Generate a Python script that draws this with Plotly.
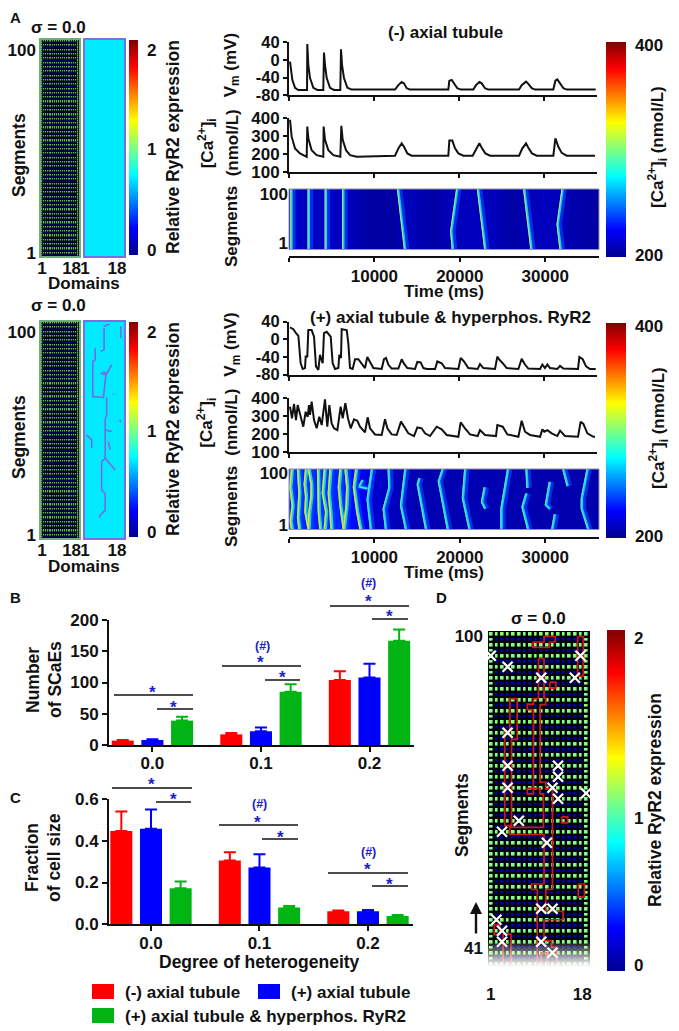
import plotly.graph_objects as go

W, H = 679, 1031
FONT = "Liberation Sans"

# ---------------- data ----------------
HET_LEVELS = ["0.0", "0.1", "0.2"]
SCAE_NOTT = [7, 17, 104]
SCAE_TT = [8, 22, 108]
SCAE_HYPER = [39, 85, 167]
SCAE_NOTT_ERR = [1, 2, 14]
SCAE_TT_ERR = [1, 6, 22]
SCAE_HYPER_ERR = [6, 12, 18]
FRAC_NOTT = [0.447, 0.305, 0.062]
FRAC_TT = [0.458, 0.272, 0.062]
FRAC_HYPER = [0.173, 0.08, 0.04]
FRAC_NOTT_ERR = [0.093, 0.04, 0.004]
FRAC_TT_ERR = [0.092, 0.063, 0.006]
FRAC_HYPER_ERR = [0.032, 0.008, 0.004]
SERIES_NAMES = ["(-) axial tubule", "(+) axial tubule", "(+) axial tubule & hyperphos. RyR2"]

VM1_T = [120, 390, 710, 1100, 2120, 2150, 2270, 2470, 2860, 3330, 4030, 4110, 4230, 4430, 4820, 5290, 6030, 6110, 6230, 6460, 6860, 7360,
         12460, 12850, 13240, 13510, 13830, 14220, 18720, 18840, 19120, 19390, 19780, 20170, 21660, 21980, 22370, 22640, 23030, 23420,
         27030, 27340, 27850, 28120, 28520, 28910, 31060, 31300, 31530, 31850, 32240, 32630, 36040]
VM1_V = [-4, -45, -63, -68, -68, 36, -11, -41, -63, -68, -68, 17, -11, -41, -63, -68, -68, 24, -11, -41, -63, -67,
         -67, -57, -50, -53, -64, -67, -67, -47, -45, -53, -64, -67, -67, -57, -50, -53, -64, -67,
         -67, -57, -49, -54, -64, -67, -67, -47, -44, -53, -64, -67, -67]
CA1_T = [120, 310, 710, 1290, 2080, 2150, 2270, 2660, 3250, 4030, 4070, 4230, 4620, 5210, 6030, 6150, 6310, 6700, 7170, 7950,
         12460, 12850, 13240, 13510, 13910, 14410, 18720, 18840, 19190, 19510, 19900, 20490, 21580, 22050, 22370, 22680, 23070, 23620,
         27030, 27420, 27850, 28160, 28550, 29100, 31060, 31300, 31650, 32040, 32630, 35960]
CA1_C = [392, 298, 233, 205, 186, 354, 289, 223, 195, 186, 354, 280, 223, 195, 186, 358, 280, 223, 195, 186,
         192, 233, 261, 242, 205, 192, 192, 276, 276, 233, 205, 192, 192, 233, 261, 233, 205, 192,
         192, 233, 261, 233, 205, 192, 192, 289, 242, 208, 192, 192]

VM2_T = [120, 510, 820, 1100, 1370, 1610, 1880, 1960, 2150, 2270, 2660, 2940, 3170, 3450, 3640, 3960, 4110, 4430, 4900, 5130, 5410, 5800,
         5910, 6110, 6190, 6780, 6970, 7170, 7480, 7760, 8150, 8540, 8930, 9200, 9520, 9910, 10890, 11160, 11400, 11670, 12060, 12850,
         13240, 13510, 13910, 14810, 15080, 15470, 15790, 16180, 17160, 17430, 17940, 18330, 19900, 20170, 20560, 21070, 22170, 22440,
         22840, 24210, 24480, 24720, 25110, 25580, 26950, 27340, 27730, 28120, 29500, 29770, 30080, 30360, 30670, 31530, 31850, 32240,
         33960, 34120, 34510, 34900, 35370, 36040]
VM2_V = [27, 23, 14, 8, -54, -67, -65, -39, -39, 21, 21, 6, -61, -69, -35, -54, 14, 17, 6, -54, -67, -65,
         -35, -42, 23, 21, -9, -65, -67, -45, -45, -54, -65, -40, -50, -65, -67, -45, -42, -57, -66, -66,
         -45, -55, -65, -67, -51, -52, -65, -67, -67, -50, -54, -65, -67, -42, -50, -65, -67, -56,
         -65, -67, -39, -46, -54, -65, -67, -44, -57, -66, -67, -57, -65, -57, -65, -67, -60, -66,
         -67, -40, -45, -61, -67, -67]
CA2_T = [120, 350, 590, 820, 1020, 1290, 1680, 1960, 2190, 2350, 2470, 2660, 2940, 3250, 3560, 3840, 4230, 4500, 4740, 5010, 5290, 5680,
         6070, 6310, 6620, 6930, 7250, 7640, 8030, 8340, 8930, 9240, 9520, 10110, 10890, 11280, 11560, 12060, 12650, 13160, 13630, 14020,
         14690, 15080, 15590, 15980, 16570, 17350, 17940, 18530, 19900, 20170, 20680, 21270, 22170, 22440, 23030, 24320, 24480, 25110,
         25660, 26950, 27340, 27730, 28320, 29500, 29770, 30000, 30360, 30870, 31530, 31850, 32430, 33960, 34270, 34590, 35060, 35760, 35960]
CA2_C = [350, 285, 365, 276, 359, 304, 239, 322, 294, 359, 304, 378, 276, 230, 294, 248, 391, 239, 359, 257, 230, 220,
         350, 285, 369, 285, 230, 280, 272, 239, 207, 291, 230, 196, 193, 280, 230, 196, 193, 267, 230, 202,
         187, 235, 230, 202, 187, 239, 224, 193, 183, 263, 230, 196, 187, 220, 193, 187, 248, 239,
         196, 183, 272, 211, 193, 183, 224, 211, 220, 202, 187, 217, 187, 183, 267, 254, 202, 183, 183]

# Ca2+ line scans: resting level along time, and the wavefronts read as (time, segment)
BG1_T = [0, 1000, 3000, 5000, 7000, 9000, 12000, 14000, 17000, 19000, 21000, 24000, 26000, 29000, 31000, 33000, 36300]
BG1_Z = [212, 212, 212, 212, 210, 205, 204, 210, 205, 210, 210, 210, 205, 210, 210, 207, 204]
BG2_T = [0, 3000, 6000, 8000, 10000, 13000, 16000, 20000, 24000, 28000, 32000, 36300]
BG2_Z = [232, 232, 232, 226, 214, 209, 208, 208, 208, 207, 207, 207]
WAVE1_T = [200, 200, None, 2230, 2230, None, 4230, 4230, None, 6270, 6270, None, 12690, 13510, None, 19620, 18920, 19110, None,
           22050, 22910, None, 27460, 28320, None, 31960, 31380, 31730]
WAVE1_S = [100, 1, None, 100, 1, None, 100, 1, None, 100, 1, None, 100, 1, None, 100, 31, 1, None,
           100, 1, None, 100, 1, None, 100, 42, 1]
WAVE2_HOT_T = [310, 120, 390, 160, 310, None, 1020, 1180, 1020, 1180, None, 1960, 1800, 1960, 1880, 2270, None, 2270, 2590, 2590, 2350, 2270, None,
               3370, 3450, 3450, 3640, None, 4150, 3920, 4310, 4150, None, 4820, 4620, 4820, 4940, None,
               5990, 5800, 5990, 6380, None, 6580, 6780, 6700, 6380, None, 7830, 7560, 7950, 8340]
WAVE2_HOT_S = [100, 70, 40, 15, 1, None, 100, 60, 20, 1, None, 100, 75, 55, 30, 1, None, 100, 75, 55, 30, 1, None,
               100, 60, 30, 1, None, 100, 60, 30, 1, None, 100, 60, 30, 1, None,
               100, 70, 40, 1, None, 100, 70, 40, 1, None, 100, 70, 30, 1]
WAVE2_T = [8540, 8150, 9130, None, 9640, 9130, 9520, None, 11600, 11670, 11010, 11280, None, 13550, 13040, 13630, None, 15200, 15000, 15980, None,
           17940, 17470, 18530, None, 20560, 20290, 21070, None, 22840, 22520, 22900, None, 25580, 24800, 24800, None,
           27730, 27850, None, 27730, 27260, 27930, None, 30470, 30000, 30470, None, 31060, 30750, None, 32040, 32550, None,
           34890, 34210, 34210, 34980]
WAVE2_S = [82, 71, 68, None, 100, 50, 1, None, 100, 69, 35, 1, None, 100, 40, 1, None, 85, 75, 1, None,
           100, 80, 1, None, 100, 52, 1, None, 70, 46, 35, None, 100, 35, 1, None,
           100, 69, None, 60, 38, 1, None, 79, 41, 35, None, 26, 1, None, 100, 72, None,
           100, 52, 35, 1]

# RyR2 maps
DOMAINS = list(range(1, 19))
SEGMENTS_ALL = list(range(1, 101))
SEGMENTS_D = list(range(39, 101))
ROW_BRIGHT = [1.0] * 18
ROW_DIM = [1.0] + [0.06] * 16 + [1.0]
ROW_CYAN = [0.71] * 18
PHOS_D = [9, 11.8, None, 17, 17, None, 9.3, 9.3, 7.8, None, 5.2, 5.2, 4.1, 4.1, 9, 9.2, 10.2, 8.7, None, 7.8, 10.2, 12.8, None,
          10.5, 10.5, 9.8, 9.8, 8.2, 8.2, 9.8, 9.8, 7.5, 7.2, None, 9.8, 14.4, None, 13.6, 13.8, None, 16.7, 16.9, None, 9.8, 12.8, None,
          1.3, 3.6, 3.6, None, 11.3, 12.1]
PHOS_S = [98.5, 99.5, None, 98.5, 93, None, 97.7, 87.6, 86.9, None, 88.4, 83, 82.2, 66, 65.5, 67.5, 76.8, 77.6, None, 76.8, 76, 80.7, None,
          65.5, 57.5, 55.2, 37.4, 35.9, 22.7, 21.2, 13.4, 11.1, 9.9, None, 37.4, 32, None, 67, 67.4, None, 55.2, 54, None, 50.5, 49.8, None,
          48.2, 45.9, 42, None, 45.1, 41.3]
CROSS_D = [1, 4, 10, 16, 17, 4, 4, 4, 12, 13, 13, 13, 18, 6, 3, 11, 10, 12, 2, 3, 3, 10, 12]
CROSS_S = [96, 94, 92, 92, 96, 82, 76, 72, 72, 76, 74, 70, 71, 66, 64, 62, 50, 50, 48, 46, 44, 44, 42]
CLUSTER_D = [9.5, 10.5, 10.5, 10.8, 10.8, 9.8, 9.8, 10.8, 10.8, 12, 12, 12, 10.8, 10.8, 13.9, 13.9, 10.5, 10.5, 11.85, 11.85, 12.75, 12.75, 11, 11, 10, 10,
             9.3, 9.3, 8.3, 8.3, 10.5, 10.5, 4.4, 4.4, 3.5, 3.5, 4.4, 4.4, 5.7, 5.7, 4.7, 4.7, 10.4, 10.4, 9.8, 9.8, 8.6, 8.6, 7.5, 7.5, 8.6, 8.6,
             7.5, 7.5, 8.6, 8.6, 9.5, 9.5, None,
             8.5, 10.5, 10.5, 12.5, 12.5, 11.5, 11.5, 8.5, 8.5, None,
             16.5, 17.5, 17.5, 16.5, 16.5, None,
             11.55, 12.6, 12.6, 11.55, 11.55, None,
             13.64, 14.7, 14.7, 13.64, 13.64, None,
             16.6, 17.7, 17.7, 16.6, 16.6, None,
             1.6, 2.6, 2.6, 1.6, 1.6, None,
             3.2, 4.6, 4.6, 3.2, 3.2]
CLUSTER_S = [95.5, 95.5, 88.3, 88.3, 87.1, 87.1, 73, 73, 71.8, 71.8, 70.7, 53.5, 53.5, 49.5, 49.5, 48, 48, 44.2, 44.2, 43, 43, 38.6, 38.6, 42, 42, 38.6,
             38.6, 53.5, 53.5, 54.5, 54.5, 63.5, 63.5, 65.1, 65.1, 82.2, 82.2, 88.2, 88.2, 80.8, 80.8, 64.8, 64.8, 70.9, 70.9, 71.9, 71.9, 70.9, 70.9, 71.9, 71.9, 86.2,
             86.2, 87.2, 87.2, 88.2, 88.2, 95.5, None,
             98.5, 98.5, 99.5, 99.5, 98.5, 98.5, 97.5, 97.5, 98.5, None,
             99.5, 99.5, 92.3, 92.3, 99.5, None,
             91.2, 91.2, 90.1, 90.1, 91.2, None,
             66.7, 66.7, 65.6, 65.6, 66.7, None,
             54.5, 54.5, 52.1, 52.1, 54.5, None,
             47.1, 47.1, 45.3, 45.3, 47.1, None,
             45.4, 45.4, 38.6, 38.6, 45.4]
FADE_S = [39.5, 44.5]
FADE_ALPHA = [1, 0]

JET = [[0, "rgb(0,0,143)"], [0.125, "rgb(0,0,255)"], [0.375, "rgb(0,255,255)"],
       [0.625, "rgb(255,255,0)"], [0.875, "rgb(255,0,0)"], [1, "rgb(128,0,0)"]]
RED, BLUE, GREEN = "#ff0000", "#0000ff", "#00b414"
STAR = "#2020c8"

fig = go.Figure()
layout = dict(width=W, height=H, margin=dict(l=0, r=0, t=0, b=0, autoexpand=False), paper_bgcolor="white", plot_bgcolor="rgba(0,0,0,0)",
              showlegend=False, barmode="group", bargap=0.18, bargroupgap=0.257,
              font=dict(family=FONT, size=17, color="#111", weight="bold"))
annots, shapes = [], []


def tf(size=17):
    return dict(family=FONT, size=size, color="#111", weight="bold")


def px(x):
    return x / W


def py(y):
    return 1 - y / H


def axes(n, x0, x1, y0, y1, xo, yo):
    sx = "" if n == 1 else str(n)
    base = dict(showgrid=False, zeroline=False, ticks="", showticklabels=False)
    xd = dict(base, domain=[px(x0), px(x1)], anchor="y" + sx)
    xd.update(xo)
    yd = dict(base, domain=[py(y1), py(y0)], anchor="x" + sx)
    yd.update(yo)
    layout["xaxis" + sx] = xd
    layout["yaxis" + sx] = yd
    return "x" + sx, "y" + sx


def ann(text, x, y, size=17, rot=0, color="#111", xanchor="center"):
    annots.append(dict(text=text, x=px(x), y=py(y), xref="paper", yref="paper", showarrow=False, textangle=rot,
                       xanchor=xanchor, yanchor="middle", font=dict(family=FONT, size=size, color=color, weight="bold")))


def black_under(x0, x1, y0, y1):
    shapes.append(dict(type="rect", xref="paper", yref="paper", x0=px(x0), x1=px(x1), y0=py(y0), y1=py(y1),
                       fillcolor="black", line=dict(width=0), layer="below"))


def cbar(x0, x1, y0, y1, vals, text):
    return dict(x=px(x0), xanchor="left", xpad=0, ypad=0, thickness=x1 - x0, lenmode="pixels", len=y1 - y0,
                y=py(y1), yanchor="bottom", outlinewidth=0, tickmode="array", tickvals=vals, ticktext=text,
                ticks="outside", ticklen=6, tickcolor="rgba(0,0,0,0)", tickfont=tf(17))


def rsvp_map_panel(n, dy, top_phos):
    # left: t-tubule map, right: RyR2 distribution
    yt, yb = 40 + dy, 256 + dy
    line_l = dict(showline=True, mirror=True, linecolor="#6fae7c", linewidth=1.5)
    line_r = dict(showline=True, mirror=True, linecolor="#7a70e0", linewidth=2)
    black_under(41, 79, yt, yb)
    ax1 = axes(n, 41, 79, yt, yb,
               dict(range=[0.5, 18.5], showticklabels=True, tickmode="array", tickvals=[1, 15], ticktext=["1", "18"], tickfont=tf(17),
                    ticklabelstandoff=-4, **line_l),
               dict(range=[0.5, 100.5], showticklabels=True, tickmode="array", tickvals=[96, 2], ticktext=["100", "1"], tickfont=tf(17), **line_l))
    z = [ROW_BRIGHT if s % 2 == 0 else ROW_DIM for s in SEGMENTS_ALL]
    fig.add_trace(go.Heatmap(z=z, x=DOMAINS, y=SEGMENTS_ALL, xaxis=ax1[0], yaxis=ax1[1], colorscale=JET, zmin=0, zmax=2, xgap=0.8, ygap=0.5,
                             opacity=0.72, hoverinfo="skip",
                             colorbar=cbar(129, 138, yt, yb - 1, [0.047, 0.99, 1.91], ["0", "1", "2"])))
    ax2 = axes(n + 1, 85, 124, yt, yb,
               dict(range=[0.5, 18.5], showticklabels=True, tickmode="array", tickvals=[0.5, 15.3], ticktext=["1", "18"], tickfont=tf(17),
                    ticklabelstandoff=-4, **line_r),
               dict(range=[0.5, 100.5], **line_r))
    fig.add_trace(go.Heatmap(z=[ROW_CYAN for _ in SEGMENTS_ALL], x=DOMAINS, y=SEGMENTS_ALL, xaxis=ax2[0], yaxis=ax2[1],
                             colorscale=JET, zmin=0, zmax=2, showscale=False, hoverinfo="skip"))
    if top_phos:
        fig.add_trace(go.Scatter(x=PHOS_D, y=PHOS_S, xaxis=ax2[0], yaxis=ax2[1], mode="lines", hoverinfo="skip",
                                 line=dict(color="#7a68e6", width=1.6)))
    ann("Domains", 84, yb + 28, 17)
    ann("Segments", 19, yt + 115, 17.5, -90)
    ann("Relative RyR2 expression", 173, yt + 107, 17.5, -90)
    ann("σ = 0.0", 58, yt - 13 if dy == 0 else yt - 17, 17)


def traces_panel(n, dy_v, dy_c, dy_h, dy_a, bg_t, bg_z, vm_t, vm_v, ca_t, ca_c, waves):
    line = dict(showline=True, linecolor="#111", linewidth=2, ticks="outside", ticklen=4, tickwidth=2, tickcolor="#111")
    xt = dict(range=[0, 36190], tickmode="array", tickvals=[0, 10000, 20000, 30000], **line)
    a1 = axes(n, 289, 597, dy_v, dy_v + 53,
              xt, dict(range=[-80, 40], tickmode="array", tickvals=[-80, -40, 0, 40], ticktext=["-80", "-40", "0", "40"],
                       showticklabels=True, tickfont=tf(16.5), **line))
    fig.add_trace(go.Scatter(x=vm_t, y=vm_v, xaxis=a1[0], yaxis=a1[1], mode="lines", line=dict(color="#111", width=2), hoverinfo="skip"))
    a2 = axes(n + 1, 289, 597, dy_c, dy_c + 54,
              xt, dict(range=[100, 400], tickmode="array", tickvals=[100, 200, 300, 400], showticklabels=True, tickfont=tf(17), **line))
    fig.add_trace(go.Scatter(x=ca_t, y=ca_c, xaxis=a2[0], yaxis=a2[1], mode="lines", line=dict(color="#111", width=2), hoverinfo="skip"))
    ytv = [92, 12] if dy_h < 300 else [93.5, 8]
    a3 = axes(n + 2, 289, 599, dy_h, dy_h + 60.5,
              dict(range=[0, 36300], tickmode="array", tickvals=[0, 10000, 20000, 30000], ticktext=["", "10000", "20000", "30000"],
                   showticklabels=True, tickfont=tf(17), anchor="free", position=py(dy_a), **line),
              dict(range=[1, 100], tickmode="array", tickvals=ytv, ticktext=["100", "1"], showticklabels=True, tickfont=tf(17)))
    fig.add_trace(go.Heatmap(z=[bg_z, bg_z], x=bg_t, y=[1, 100], xaxis=a3[0], yaxis=a3[1], colorscale=JET, zmin=200, zmax=400,
                             zsmooth="best", hoverinfo="skip",
                             colorbar=cbar(606, 626, dy_a - 215, dy_a, [202, 397], ["200", "400"])))
    for wt, ws, core_col, core_w, mid_w in waves:
        for shift, col, wd in [(260, "rgba(0,60,255,0.75)", 5.5), (90, "rgba(20,205,235,1)", mid_w), (0, core_col, core_w)]:
            fig.add_trace(go.Scatter(x=[None if t is None else t + shift for t in wt], y=ws, xaxis=a3[0], yaxis=a3[1], mode="lines",
                                     line=dict(color=col, width=wd), hoverinfo="skip", connectgaps=False))
    shapes.append(dict(type="rect", xref="paper", yref="paper", x0=px(289), x1=px(599), y0=py(dy_h), y1=py(dy_h + 60.5),
                       line=dict(color="#8f8fb0", width=1)))
    ann("Time (ms)", 444, dy_a + 34, 17)
    ann("V<sub>m</sub> (mV)", 232, dy_v + 23, 17, -90)
    ann("(nmol/L)", 232, dy_c + 25, 17, -90)
    ann("[Ca<sup>2+</sup>]<sub>i</sub>", 207, dy_c + 25, 17, -90)
    ann("Segments", 232, dy_h + 38, 17, -90)
    ann("[Ca<sup>2+</sup>]<sub>i</sub> (nmol/L)", 658, dy_a - 110, 17, -90)


rsvp_map_panel(1, 0, False)
traces_panel(3, 42.3, 118.3, 189, 257, BG1_T, BG1_Z, VM1_T, VM1_V, CA1_T, CA1_C,
             [(WAVE1_T, WAVE1_S, "#c8e070", 1.0, 2.4)])
rsvp_map_panel(6, 282, True)
traces_panel(8, 321.7, 397.7, 469, 538, BG2_T, BG2_Z, VM2_T, VM2_V, CA2_T, CA2_C,
             [(WAVE2_T, WAVE2_S, "#70e0b0", 1.0, 2.4), (WAVE2_HOT_T, WAVE2_HOT_S, "#d8e040", 1.6, 3.4)])
ann("(-) axial tubule", 445, 33, 17)
ann("(+) axial tubule & hyperphos. RyR2", 450, 317, 17)


def bars(n, x0, x1, y0, y1, xr, yr, yticks, yfmt, vals, errs):
    line = dict(showline=True, linecolor="#111", linewidth=2, ticks="outside", ticklen=5, tickwidth=2, tickcolor="#111",
                showticklabels=True, tickfont=tf(17))
    a = axes(n, x0, x1, y0, y1, dict(type="category", range=xr, ticklabelstandoff=-3, **line),
             dict(range=yr, tickmode="array", tickvals=yticks, tickformat=yfmt, **line))
    for name, v, e, c in zip(SERIES_NAMES, vals, errs, [RED, BLUE, GREEN]):
        fig.add_trace(go.Bar(x=HET_LEVELS, y=v, name=name, marker=dict(color=c, line=dict(width=0)), xaxis=a[0], yaxis=a[1],
                             error_y=dict(type="data", symmetric=False, array=e, arrayminus=[0, 0, 0], color=c, thickness=2, width=6),
                             hoverinfo="skip"))


bars(11, 109, 414, 620, 745, [-0.40, 2.41], [0, 200], [0, 50, 100, 150, 200], "d",
     [SCAE_NOTT, SCAE_TT, SCAE_HYPER], [SCAE_NOTT_ERR, SCAE_TT_ERR, SCAE_HYPER_ERR])
bars(12, 109, 413, 799, 924.3, [-0.387, 2.415], [0, 0.6], [0, 0.2, 0.4, 0.6], ".1f",
     [FRAC_NOTT, FRAC_TT, FRAC_HYPER], [FRAC_NOTT_ERR, FRAC_TT_ERR, FRAC_HYPER_ERR])


def bracket(x0, x1, y):
    shapes.append(dict(type="line", xref="paper", yref="paper", x0=px(x0), x1=px(x1), y0=py(y), y1=py(y), line=dict(color="#111", width=1.6)))


def star(x, y):
    ann("*", x, y + 4, 17, color=STAR)


def hash_mark(x, y):
    ann("(#)", x, y, 12.5, color=STAR)


for b in [(114, 193, 695), (157, 193, 709), (222, 301, 666), (265, 300, 680), (330, 409, 606), (372, 408, 619),
          (112, 192, 788), (156, 191, 802), (219, 298, 825), (262, 298, 839), (328, 408, 873), (372, 408, 886)]:
    bracket(*b)
for s in [(152, 688), (174, 703), (260, 658), (282, 673), (368, 597), (390, 612),
          (151, 780), (173, 795), (257, 818), (280, 833), (367, 865), (389, 880)]:
    star(*s)
for h in [(262, 646), (368, 583), (259, 804), (368, 852)]:
    hash_mark(*h)

ann("Number", 33, 680, 17.5, -90)
ann("of SCaEs", 55, 680, 17.5, -90)
ann("Fraction", 32, 858, 17.5, -90)
ann("of cell size", 54, 858, 17.5, -90)
ann("Degree of heterogeneity", 259, 962, 17.5)

for (x0, y0, c), (tx, ty), name in zip([(92, 984, RED), (258, 984, BLUE), (92, 1008, GREEN)],
                                       [(123, 992), (289, 992), (123, 1016)], SERIES_NAMES):
    shapes.append(dict(type="rect", xref="paper", yref="paper", x0=px(x0), x1=px(x0 + 22), y0=py(y0), y1=py(y0 + 15),
                       fillcolor=c, line=dict(width=0)))
    ann(name, tx, ty, 17, xanchor="left")

# panel D
black_under(488, 590, 631, 972)
aD = axes(13, 488, 590, 631, 972,
          dict(range=[0.5, 18.7], showticklabels=True, tickmode="array", tickvals=[1, 17.3], ticktext=["1", "18"], tickfont=tf(17), ticklabelstandoff=10),
          dict(range=[38.5, 100.5], showticklabels=True, tickmode="array", tickvals=[99.6, 42.9], ticktext=["100", "41"], tickfont=tf(17), ticklabelstandoff=4))
fig.add_trace(go.Heatmap(z=[ROW_BRIGHT if s % 2 == 0 else ROW_DIM for s in SEGMENTS_D], x=DOMAINS, y=SEGMENTS_D,
                         xaxis=aD[0], yaxis=aD[1], colorscale=JET, zmin=0, zmax=2, xgap=2.4, ygap=2.4, hoverinfo="skip",
                         colorbar=cbar(607, 625, 630, 971, [0.035, 0.9, 1.95], ["0", "1", "2"])))
fig.add_trace(go.Scatter(x=CLUSTER_D, y=CLUSTER_S, xaxis=aD[0], yaxis=aD[1], mode="lines", hoverinfo="skip",
                         line=dict(color="#d01818", width=1.7)))
fig.add_trace(go.Scatter(x=CROSS_D, y=CROSS_S, xaxis=aD[0], yaxis=aD[1], mode="markers", hoverinfo="skip",
                         marker=dict(symbol="x-thin", size=10, line=dict(color="white", width=2.4))))
# white fade at the cut end of the map: its own subplot, so that it lies over the outlines and crosses
aF = axes(14, 488, 590, 631, 972, dict(range=[0.5, 18.7]), dict(range=[38.5, 100.5]))
fig.add_trace(go.Heatmap(z=[[FADE_ALPHA[0]] * 2, [FADE_ALPHA[1]] * 2], x=[0.5, 18.7], y=FADE_S, xaxis=aF[0], yaxis=aF[1],
                         zsmooth="best", zmin=0, zmax=1, showscale=False, hoverinfo="skip",
                         colorscale=[[0, "rgba(255,255,255,0)"], [1, "rgba(255,255,255,1)"]]))
ann("σ = 0.0", 538, 618, 17)
ann("Segments", 462, 815, 17.5, -90)
ann("Relative RyR2 expression", 655, 800, 17.5, -90)
annots.append(dict(x=px(476), y=py(902), xref="paper", yref="paper", ax=0, ay=33, text="", showarrow=True,
                   arrowhead=2, arrowsize=1, arrowwidth=2.4, arrowcolor="#111"))

for t, x, y in [("A", 15, 17), ("B", 15, 597), ("C", 15, 797), ("D", 441, 597)]:
    ann(t, x, y, 15)

layout["annotations"] = annots
layout["shapes"] = shapes
fig.update_layout(**layout)
fig.write_html("out.html", config=dict(displayModeBar=False),
               post_script="document.documentElement.style.overflow='hidden';document.body.style.margin='0';window.dispatchEvent(new Event('resize'));")
